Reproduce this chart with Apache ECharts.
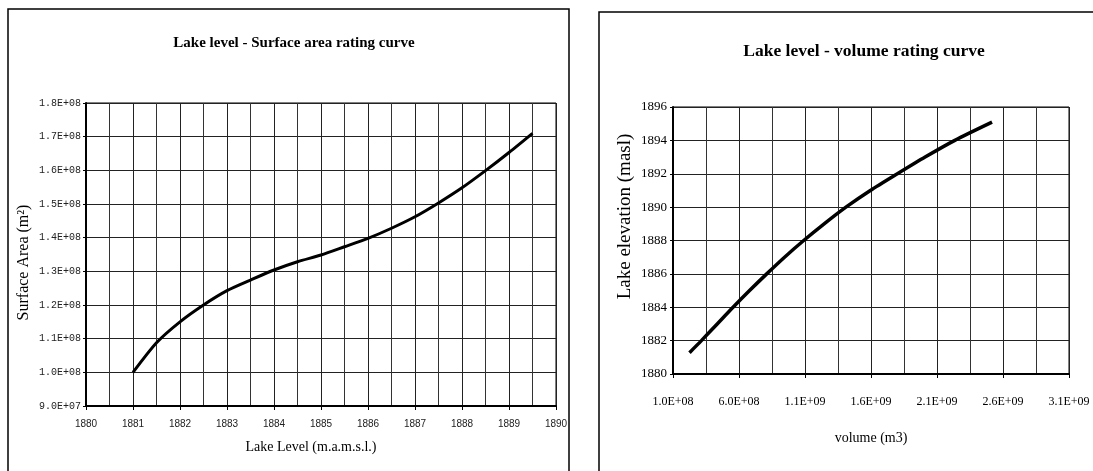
<!DOCTYPE html>
<html>
<head>
<meta charset="utf-8">
<script src="https://cdn.jsdelivr.net/npm/echarts@6/dist/echarts.min.js"></script>
<style>
html,body{margin:0;padding:0;background:#fff;}
#chart{width:1093px;height:471px;}
</style>
</head>
<body>
<div id="chart"></div>
<script>
// Left chart: lake level (m a.m.s.l.) vs surface area (m2)
const areaLevels = [1881.0, 1881.5, 1882.0, 1882.5, 1883.0, 1883.5, 1884.0, 1884.5, 1885.0, 1885.5, 1886.0, 1886.5, 1887.0, 1887.5, 1888.0, 1888.5, 1889.0, 1889.5];
const areaValues = [1.00e8, 1.088e8, 1.15e8, 1.20e8, 1.2425e8, 1.274e8, 1.304e8, 1.3286e8, 1.3485e8, 1.373e8, 1.398e8, 1.428e8, 1.462e8, 1.503e8, 1.548e8, 1.599e8, 1.653e8, 1.71e8];
// Right chart: volume (m3) vs lake elevation (masl)
const volumes = [2.25e8, 3.15e8, 4.35e8, 5.55e8, 6.8e8, 8.1e8, 9.45e8, 1.09e9, 1.245e9, 1.41e9, 1.595e9, 1.80e9, 2.01e9, 2.235e9, 2.517e9];
const elevations = [1881.28, 1882, 1883, 1884, 1885, 1886, 1887, 1888, 1889, 1890, 1891, 1892, 1893, 1894, 1895.09];

const titles = ['Lake level - Surface area rating curve', 'Lake level - volume rating curve'];

function sci(v) {
  const s = Number(v).toExponential(1); // e.g. 1.8e+8
  const m = s.match(/^(-?[\d.]+)e([+-])(\d+)$/);
  if (!m) return s;
  return m[1] + 'E' + m[2] + (m[3].length < 2 ? '0' + m[3] : m[3]);
}
function plain(v) { return String(v); }

const chart = echarts.init(document.getElementById('chart'));
const serif = 'Liberation Serif';
const option = {
  animation: false,
  backgroundColor: '#fff',
  title: [
    { text: titles[0], left: 289, top: 31, textAlign: 'center',
      textStyle: { fontFamily: serif, fontWeight: 'bold', fontSize: 15, color: '#000' } },
    { text: titles[1], left: 859, top: 37, textAlign: 'center',
      textStyle: { fontFamily: serif, fontWeight: 'bold', fontSize: 17.5, color: '#000' } }
  ],
  graphic: [
    { type: 'rect', shape: { x: 8, y: 9, width: 561, height: 480 }, style: { fill: 'none', stroke: '#000', lineWidth: 1.5 }, silent: true },
    { type: 'rect', shape: { x: 599, y: 12, width: 520, height: 480 }, style: { fill: 'none', stroke: '#000', lineWidth: 1.5 }, silent: true }
  ],
  grid: [
    { left: 86, top: 103, width: 470, height: 303, show: true, borderColor: '#000', borderWidth: 1, backgroundColor: 'transparent', containLabel: false },
    { left: 673, top: 107, width: 396, height: 267, show: true, borderColor: '#000', borderWidth: 1, backgroundColor: 'transparent', containLabel: false }
  ],
  xAxis: [
    { type: 'value', gridIndex: 0, min: 1880, max: 1890, interval: 1,
      name: 'Lake Level (m.a.m.s.l.)', nameLocation: 'middle', nameGap: 34,
      nameTextStyle: { fontFamily: serif, fontSize: 14, color: '#000', padding: [0, 20, 0, 0] },
      axisLine: { show: true, onZero: false, lineStyle: { color: '#000', width: 2 } },
      axisTick: { show: true, length: 4, lineStyle: { color: '#000' } },
      minorTick: { show: false, splitNumber: 2 },
      minorSplitLine: { show: true, lineStyle: { color: '#333', width: 1 } },
      splitLine: { show: true, lineStyle: { color: '#222', width: 1 } },
      axisLabel: { margin: 13, fontFamily: 'Liberation Sans', fontSize: 10, color: '#222', formatter: plain, showMinLabel: true, showMaxLabel: true }
    },
    { type: 'value', gridIndex: 1, min: 1e8, max: 3.1e9, interval: 5e8,
      name: 'volume (m3)', nameLocation: 'middle', nameGap: 57,
      nameTextStyle: { fontFamily: serif, fontSize: 14, color: '#000' },
      axisLine: { show: true, onZero: false, lineStyle: { color: '#000', width: 2 } },
      axisTick: { show: true, length: 4, lineStyle: { color: '#000' } },
      minorTick: { show: false, splitNumber: 2 },
      minorSplitLine: { show: true, lineStyle: { color: '#333', width: 1 } },
      splitLine: { show: true, lineStyle: { color: '#222', width: 1 } },
      axisLabel: { margin: 22, fontFamily: serif, fontSize: 12, color: '#000', formatter: sci, showMinLabel: true, showMaxLabel: true }
    }
  ],
  yAxis: [
    { type: 'value', gridIndex: 0, min: 9e7, max: 1.8e8, interval: 1e7,
      name: 'Surface Area (m²)', nameLocation: 'middle', nameGap: 54,
      nameTextStyle: { fontFamily: serif, fontSize: 16, color: '#000', padding: [0, 16, 0, 0] },
      axisLine: { show: true, onZero: false, lineStyle: { color: '#000', width: 2 } },
      axisTick: { show: true, length: 3, lineStyle: { color: '#000' } },
      splitLine: { show: true, lineStyle: { color: '#222', width: 1 } },
      axisLabel: { margin: 5, fontFamily: 'Liberation Mono', fontSize: 10, color: '#222', formatter: sci }
    },
    { type: 'value', gridIndex: 1, min: 1880, max: 1896, interval: 2,
      name: 'Lake elevation (masl)', nameLocation: 'middle', nameGap: 38,
      nameTextStyle: { fontFamily: serif, fontSize: 19, color: '#000', padding: [0, 0, 0, 48] },
      axisLine: { show: true, onZero: false, lineStyle: { color: '#000', width: 2 } },
      axisTick: { show: true, length: 3, lineStyle: { color: '#000' } },
      splitLine: { show: true, lineStyle: { color: '#222', width: 1 } },
      axisLabel: { margin: 6, fontFamily: serif, fontSize: 13, color: '#000', formatter: plain }
    }
  ],
  series: [
    { type: 'line', xAxisIndex: 0, yAxisIndex: 0, showSymbol: false, smooth: 0.25,
      lineStyle: { color: '#000', width: 3 },
      data: areaLevels.map((x, i) => [x, areaValues[i]]) },
    { type: 'line', xAxisIndex: 1, yAxisIndex: 1, showSymbol: false, smooth: 0.25,
      lineStyle: { color: '#000', width: 3.5 },
      data: volumes.map((x, i) => [x, elevations[i]]) }
  ]
};
chart.setOption(option);
</script>
</body>
</html>
